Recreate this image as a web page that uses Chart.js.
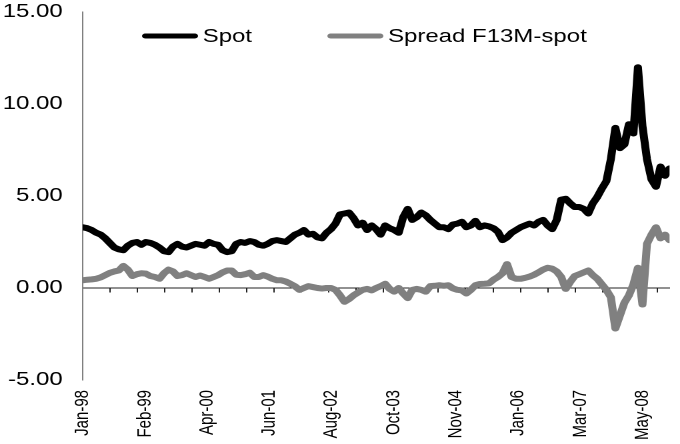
<!DOCTYPE html>
<html>
<head>
<meta charset="utf-8">
<script src="https://cdn.jsdelivr.net/npm/chart.js@4.4.0/dist/chart.umd.min.js"></script>
<style>
  html, body { margin: 0; padding: 0; background: #fff; overflow: hidden; }
  /* the original picture is stretched sideways, so draw narrow and widen */
  #wrap { width: 510px; height: 444px; transform: scaleX(1.33334); transform-origin: 0 0; }
</style>
</head>
<body>
<div id="wrap"><canvas id="chart"></canvas></div>
<script>
// one value per month, Jan-98 .. Nov-08
const spot = [
  3.3, 3.25, 3.15, 3.0, 2.9, 2.7, 2.45, 2.2, 2.1, 2.05,
  2.3, 2.45, 2.5, 2.35, 2.5, 2.45, 2.35, 2.2, 2.0, 1.95,
  2.25, 2.4, 2.25, 2.2, 2.3, 2.4, 2.35, 2.3, 2.5, 2.4,
  2.35, 2.05, 1.95, 2.0, 2.4, 2.5, 2.45, 2.55, 2.5, 2.35,
  2.3, 2.4, 2.55, 2.6, 2.55, 2.5, 2.7, 2.9, 3.0, 3.15,
  2.9, 2.95, 2.75, 2.7, 3.0, 3.2, 3.5, 4.0, 4.05, 4.1,
  3.8, 3.4, 3.55, 3.15, 3.4, 3.2, 2.9, 3.4, 3.25, 3.15,
  3.0, 3.85, 4.3, 3.7, 3.85, 4.1, 3.95, 3.7, 3.5, 3.3,
  3.3, 3.2, 3.45, 3.5, 3.6, 3.3, 3.4, 3.65, 3.3, 3.4,
  3.35, 3.25, 3.05, 2.6, 2.75, 3.0, 3.15, 3.3, 3.4, 3.5,
  3.4, 3.6, 3.7, 3.4, 3.2, 3.7, 4.8, 4.85, 4.6, 4.4,
  4.4, 4.3, 4.05, 4.6, 4.95, 5.4, 5.8, 7.0, 8.7, 7.6,
  7.8, 8.9, 8.4, 12.0, 8.8, 7.0, 5.9, 5.5, 6.6, 6.1,
  6.5
];
const spread = [
  0.42, 0.45, 0.47, 0.5, 0.58, 0.7, 0.82, 0.9, 0.95, 1.2,
  1.0, 0.65, 0.75, 0.8, 0.78, 0.65, 0.6, 0.5, 0.8, 1.0,
  0.9, 0.65, 0.7, 0.8, 0.7, 0.6, 0.68, 0.6, 0.5, 0.6,
  0.7, 0.85, 0.95, 0.95, 0.72, 0.7, 0.75, 0.83, 0.6, 0.6,
  0.7, 0.62, 0.5, 0.42, 0.42, 0.35, 0.23, 0.1, -0.1, 0.0,
  0.1, 0.05, 0.0, -0.03, 0.0, 0.0, -0.1, -0.4, -0.75, -0.6,
  -0.4, -0.25, -0.1, -0.05, -0.13, 0.0, 0.1, 0.23, -0.05, -0.2,
  0.0, -0.3, -0.55, -0.1, -0.05, -0.1, -0.2, 0.1, 0.12, 0.15,
  0.12, 0.15, -0.02, -0.1, -0.13, -0.3, -0.1, 0.15, 0.22, 0.23,
  0.25, 0.45, 0.6, 0.8, 1.3, 0.6, 0.5, 0.5, 0.55, 0.62,
  0.72, 0.85, 1.0, 1.1, 1.05, 0.9, 0.6, -0.05, 0.33, 0.65,
  0.75, 0.85, 0.95, 0.7, 0.5, 0.2, -0.1, -0.5, -2.2, -1.5,
  -0.8, -0.4, 0.2, 1.1, -0.9, 2.4, 2.9, 3.3, 2.7, 2.9,
  2.6
];
const seriesNames = ['Spot', 'Spread F13M-spot'];

// x labels and where they sit (months after Jan-98)
const tickLabels = ['Jan-98', 'Feb-99', 'Apr-00', 'Jun-01', 'Aug-02', 'Oct-03', 'Nov-04', 'Jan-06', 'Mar-07', 'May-08'];
const tickMonths = [0, 13.78, 27.56, 41.33, 55.11, 68.89, 82.67, 96.44, 110.22, 124];
const markStep = 6.06;   // small tick marks on the zero line
const lastMonth = spot.length - 1;

const FONT = "'Liberation Sans', Arial, sans-serif";

// legend drawn inside the plot, like the original
const legendInPlot = {
  id: 'legendInPlot',
  afterDraw(chart) {
    const ctx = chart.ctx;
    const spots = [{ x0: 109, x1: 146, tx: 152 }, { x0: 248, x1: 285, tx: 291 }];
    const y = 36;
    ctx.save();
    chart.data.datasets.forEach((ds, i) => {
      const p = spots[i];
      ctx.strokeStyle = ds.borderColor;
      ctx.lineWidth = 5;
      ctx.lineCap = 'round';
      ctx.beginPath();
      ctx.moveTo(p.x0, y);
      ctx.lineTo(p.x1, y);
      ctx.stroke();
      ctx.fillStyle = '#000';
      ctx.font = '18px ' + FONT;
      ctx.textBaseline = 'middle';
      ctx.textAlign = 'left';
      ctx.fillText(ds.label, p.tx, y + 1);
    });
    ctx.restore();
  }
};

new Chart(document.getElementById('chart'), {
  type: 'line',
  data: {
    datasets: [
      {
        label: seriesNames[0],
        data: spot.map((v, i) => ({ x: i, y: v })),
        borderColor: '#000000',
        borderWidth: 6,
      },
      {
        label: seriesNames[1],
        data: spread.map((v, i) => ({ x: i, y: v })),
        borderColor: '#808080',
        borderWidth: 6,
      }
    ]
  },
  options: {
    responsive: true,
    maintainAspectRatio: false,
    animation: false,
    devicePixelRatio: 2,
    layout: { padding: { top: 12, right: 4, left: 0, bottom: 0 } },
    elements: {
      point: { radius: 0 },
      line: { tension: 0, borderJoinStyle: 'round', borderCapStyle: 'round' }
    },
    plugins: {
      legend: { display: false },
      tooltip: { enabled: false }
    },
    scales: {
      x: {
        type: 'linear',
        min: 0,
        max: lastMonth,
        grid: { display: false, drawTicks: false },
        border: { display: false },
        afterBuildTicks: (scale) => { scale.ticks = tickMonths.map(v => ({ value: v })); },
        afterFit: (scale) => { scale.height = 64; },
        ticks: {
          autoSkip: false,
          minRotation: 90,
          maxRotation: 90,
          padding: 10,
          color: '#000',
          font: { family: FONT, size: 15 },
          callback: (v, i) => tickLabels[i]
        }
      },
      zero: {
        type: 'linear',
        axis: 'x',
        position: { y: 0 },
        min: 0,
        max: lastMonth,
        grid: { display: true, drawOnChartArea: false, drawTicks: true, tickLength: 4, color: '#222' },
        border: { display: true, color: '#222', width: 1 },
        afterBuildTicks: (scale) => {
          const t = [];
          for (let v = 0; v <= lastMonth; v += markStep) t.push({ value: v });
          scale.ticks = t;
        },
        ticks: { display: false }
      },
      y: {
        min: -5,
        max: 15,
        grid: { display: false, drawTicks: false },
        border: { display: true, color: '#808080', width: 1 },
        afterFit: (scale) => {
          scale.width = 62;
          scale.paddingTop = 0;
          scale.paddingBottom = 0;
        },
        ticks: {
          stepSize: 5,
          padding: 15,
          color: '#000',
          font: { family: FONT, size: 18 },
          callback: (v) => v.toFixed(2)
        }
      }
    }
  },
  plugins: [legendInPlot]
});
</script>
</body>
</html>
